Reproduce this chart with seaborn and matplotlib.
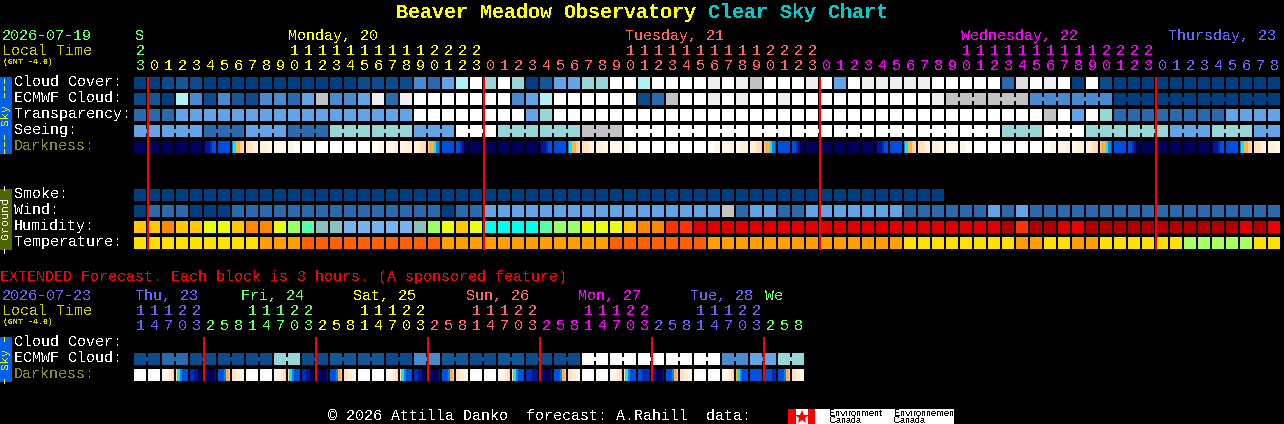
import numpy as np
import pandas as pd
import matplotlib
matplotlib.use("Agg")
import matplotlib.pyplot as plt
from matplotlib.colors import ListedColormap
from matplotlib.patches import Rectangle
import seaborn as sns

W, H = 1284, 424

# block colours, one letter per hour
cloud_codes = "NABCDEFGWXYZ"
cloud_colors = ["#003f7f", "#0d4c8c", "#145797", "#2a6aad", "#4a8bd0", "#62a4e6",
                "#97d6d6", "#b0f2f2", "#ffffff", "#eeeeee", "#dddddd", "#c2c2c2"]

cloud_cover = ("NNABANNNNN" "NNNNNNAAAA" "DCEGWFWFNB" "EEFFWWGWWW" "WXWXZWWWXW"
               "EWXXXXXWWW" "WWCYWXWNWA" "NNNNNNNNNNNN")
ecmwf_cloud = ("ABNGDADBAD" "DCEZDDEXCX" "WWWWWWWDEG" "WWWWWWACZW" "WXWXWWXWWW"
               "WWWWWWWXZZ" "ZZZZDDDDDD" "NNNNNNNNNNNN")
transparency = ("CCCEEEEEEE" "EEEEEEEEEE" "WWWWWWWWEF" "WWWWWWWWWW" "WWWWWWWWWW"
                "WWWWWWWWWW" "WWWWWZWEWF" "CCCCCCCCEEEE")
seeing = ("EE" "EEE" "CCC" "EEE" "CCC" "FFF" "FFF" "EEE" "WWW" "FFF" "FFF" "ZZZ"
          "WWW" "WWW" "WWW" "WWW" "WWW" "WWW" "WWW" "WWW" "WWW"
          "FFF" "WWW" "FFF" "FFF" "EEE" "FFF" "EE")

smoke_hours = 58
wind_codes = "NCEZ"
wind_colors = ["#003f7f", "#2a6aad", "#62a4e6", "#c2c2c2"]
wind = ("NCCCNNNCCC" "CCCCCCCCCC" "CCNCCEEEEE" "EEEEEEEEEE" "EEZCEECCEE"
        "EEEEECCCCC" "CECECCCCCC" "CCCCCCCCCCCC")

humidity_codes = "abcdefghijkl"
humidity_colors = ["#ffc800", "#ff8800", "#e8ff14", "#99ff66", "#55ffaa", "#88c0c0",
                   "#77b4ee", "#00ffee", "#ff3300", "#e00000", "#b00000", "#ee0000"]
humidity = ("aabaaccabb" "cdeffggggg" "fdcachhhhe" "ddcccabbii" "jjjjjjjjjj"
            "jjjjjjjjjj" "jjkikkjlkk" "kkkkkkkkkjkl")

temp_codes = "yopg"
temp_colors = ["#ffe000", "#ffa000", "#ff6000", "#a8ff60"]
temperature = ("yyyyyyyyyo" "oopppppppp" "ppoooooooo" "oooopppppp" "pooooooooo"
               "oooooyyyyy" "yyyooyyooy" "yyyyygggggyy")

# darkness, six samples across each block, 0 = daylight, b = black sky
dark_colors = ["#ffffff", "#fff6ea", "#ffeed8", "#ffe2bc", "#ffd090", "#ffb040",
               "#20e0e0", "#0088ee", "#0050e0", "#0030b0", "#001890", "#00005c"]
darkness = [
    "bbbbbb", "bbbbbb", "bbbbbb", "bbbbbb", "bbbbbb", "baa988", "888888", "765543",
    "333222", "222211", "111111", "111000", "000000", "000000", "000000", "000000", "000000",
    "000111", "111122", "112222", "222334", "455678", "888888", "889abb",
    "bbbbbb", "bbbbbb", "bbbbbb", "bbbbbb", "bbbbbb", "baa988", "888888", "765543",
    "333222", "222211", "111111", "111000", "000000", "000000", "000000", "000000", "000000",
    "000111", "111122", "112222", "222334", "455678", "888888", "889abb",
    "bbbbbb", "bbbbbb", "bbbbbb", "bbbbbb", "bbbbbb", "baa988", "888888", "765543",
    "333222", "222211", "111111", "111000", "000000", "000000", "000000", "000000", "000000",
    "000111", "111122", "112222", "222334", "455678", "888888", "889abb",
    "bbbbbb", "bbbbbb", "bbbbbb", "bbbbbb", "bbbbbb", "baa988", "888888", "765543",
    "333222", "222211",
]

# extended forecast, 3 hours per block
ext_ecmwf = ("AACCAAAAAA" "FFAABBBBAA" "DDBBAABBAA" "AAWWWWWWWW" "WWDDEEFF")
ext_darkness = [
    "000000", "000000", "011234", "367888", "99aabb", "bbbbba", "888754", "332211",
    "000000", "000000", "011234", "367888", "99aabb", "bbbbba", "888754", "332211",
    "000000", "000000", "011234", "367888", "99aabb", "bbbbba", "888754", "332211",
    "000000", "000000", "011234", "367888", "999aaa", "bbbbba", "888754", "332211",
    "000000", "000000", "011234", "367888", "889999", "9abbba", "888754", "332211",
    "000000", "000000", "011234", "567888", "888888", "888899", "888754", "332211",
]

seeing_blocks = [2] + [3] * 26 + [2]
ecmwf_blocks_from_58 = [3] * 8
ext_blocks = [2] * 24

hour_digits = ("3" "012345678901234567890123" "012345678901234567890123"
               "012345678901234567890123" "012345678")
tens_digits = ("2" "          " "1111111111" "2222" "          " "1111111111" "2222"
               "          " "1111111111" "2222" "         ")
day_colors = ["#66ff66", "#ffff00", "#ff6666", "#ff00ff", "#6666ff"]
day_starts = [0, 1, 25, 49, 73]
day_names = ["S", "Monday, 20", "Tuesday, 21", "Wednesday, 22", "Thursday, 23"]
day_name_x = [135, 288, 625, 961, 1168]
midnights = [1, 25, 49, 73]

ext_hours = "14703" "25814703" "25814703" "25814703" "25814703" "25814703" "258"
ext_tens = "11122   11122   11122   11122   11122   11122   "
ext_day_colors = ["#6666ff", "#66ff66", "#ffff00", "#ff6666", "#ff00ff", "#6666ff", "#66ff66"]
ext_day_starts = [0, 5, 13, 21, 29, 37, 45]
ext_day_names = ["Thu, 23", "Fri, 24", "Sat, 25", "Sun, 26", "Mon, 27", "Tue, 28", "We"]
ext_day_x = [135, 241, 353, 466, 578, 690, 765]
ext_midnights = [5, 13, 21, 29, 37, 45]

sns.set_theme(style="dark", rc={"figure.facecolor": "black", "axes.facecolor": "black",
                                "savefig.facecolor": "black", "text.antialiased": False,
                                "text.hinting": "native", "text.hinting_factor": 1})
plt.rcParams["font.family"] = ["Liberation Mono", "DejaVu Sans Mono"]

PX = 72 / 100  # one pixel in points
X0, PITCH = 133, 14
fig = plt.figure(figsize=(W / 100, H / 100), dpi=100)


def grid_axes(top, nrows, ncols):
    return fig.add_axes([X0 / W, 1 - (top + nrows * 16) / H, ncols * PITCH / W, nrows * 16 / H])


def draw_blocks(ax, matrix, colors, samples=1):
    # heatmap for the colours, then black lines cut it into blocks
    sns.heatmap(pd.DataFrame(matrix), ax=ax, cmap=ListedColormap(colors), vmin=-0.5,
                vmax=len(colors) - 0.5, cbar=False, xticklabels=False, yticklabels=False)
    nrows, ncols = np.shape(matrix)
    ax.vlines(np.arange(0, ncols + 1, samples), 0, nrows, color="black", lw=2 * PX)
    ax.hlines(np.arange(nrows + 1), 0, ncols, color="black", lw=4 * PX)
    ax.set_xlabel("")
    ax.set_ylabel("")
    ax.set_facecolor("black")


def add_bridges(ax, row, codes, blocks, start=0):
    # 3 hour data: cells of one block are joined in the middle
    col = start
    for size in blocks:
        for k in range(col + 1, col + size):
            color = cloud_colors[cloud_codes.index(codes[k])]
            ax.add_patch(Rectangle((k - 1.2 / PITCH, row + 0.375), 2.4 / PITCH, 0.25,
                                   facecolor=color, lw=0, antialiased=False, zorder=5))
        col += size


def idx(codes, row):
    return [codes.index(c) for c in row]


def dark_matrix(cells):
    return [[int(c, 16) for c in "".join(cells)]]


ax_sky = grid_axes(75, 4, 82)
draw_blocks(ax_sky, [idx(cloud_codes, r) for r in (cloud_cover, ecmwf_cloud, transparency, seeing)],
            cloud_colors)
add_bridges(ax_sky, 3, seeing, seeing_blocks)
add_bridges(ax_sky, 1, ecmwf_cloud, ecmwf_blocks_from_58, start=58)

ax_dark = grid_axes(139, 1, 82)
draw_blocks(ax_dark, dark_matrix(darkness), dark_colors, samples=6)

# ground rows, each has its own colour scale
ground_colors = wind_colors + humidity_colors + temp_colors
offs_h = len(wind_colors)
offs_t = offs_h + len(humidity_colors)
smoke_row = [0] * smoke_hours + [np.nan] * (82 - smoke_hours)
wind_row = [wind_codes.index(c) for c in wind]
hum_row = [offs_h + humidity_codes.index(c) for c in humidity]
temp_row = [offs_t + temp_codes.index(c) for c in temperature]
ax_ground = grid_axes(187, 4, 82)
draw_blocks(ax_ground, [smoke_row, wind_row, hum_row, temp_row], ground_colors)

ax_ext = grid_axes(335, 2, 48)
ext_rows = [[np.nan] * 48, idx(cloud_codes, ext_ecmwf)]
draw_blocks(ax_ext, ext_rows, cloud_colors)
add_bridges(ax_ext, 1, ext_ecmwf, ext_blocks)

ax_ext_dark = grid_axes(367, 1, 48)
draw_blocks(ax_ext_dark, dark_matrix(ext_darkness), dark_colors, samples=6)

# overlay in pixel coordinates for the texts, side bars and midnight lines
ov = fig.add_axes([0, 0, 1, 1], facecolor="none")
ov.set_xlim(0, W)
ov.set_ylim(H, 0)
ov.axis("off")


def put(x, y, s, color="white", size=15, **kw):
    ov.text(x, y, s, color=color, fontsize=size * PX, va="baseline", **kw)


def cell_x(col):
    return 134 + PITCH * col


put(396, 18, "Beaver Meadow Observatory", "#ffff00", 20, fontweight="bold")
put(708, 18, "Clear Sky Chart", "#00cccc", 20, fontweight="bold")

put(2, 40, "2026-07-19", "#66ff66")
put(2, 55, "Local Time", "#cccc00")
put(3, 64, "(GMT -4.0)", "#cccc00", 8, fontweight="bold")

for name, x, c in zip(day_names, day_name_x, day_colors):
    put(x, 40, name, c)
for col, (h, t) in enumerate(zip(hour_digits, tens_digits)):
    start = [i for i, s in enumerate(day_starts) if s <= col][-1]
    put(cell_x(col) + 2, 70, h, day_colors[start])
    if t != " ":
        put(cell_x(col) + 2, 55, t, day_colors[start])

sky_labels = ["Cloud Cover:", "ECMWF Cloud:", "Transparency:", "Seeing:", "Darkness:"]
for i, lab in enumerate(sky_labels):
    put(14, 86 + 16 * i, lab, "#888833" if lab == "Darkness:" else "white")
for i, lab in enumerate(["Smoke:", "Wind:", "Humidity:", "Temperature:"]):
    put(14, 198 + 16 * i, lab)

put(0, 281, "EXTENDED Forecast. Each block is 3 hours. (A sponsored feature)", "#ff0000")
put(2, 300, "2026-07-23", "#6666ff")
put(2, 315, "Local Time", "#cccc00")
put(3, 324, "(GMT -4.0)", "#cccc00", 8, fontweight="bold")
for name, x, c in zip(ext_day_names, ext_day_x, ext_day_colors):
    put(x, 300, name, c)
for col, (h, t) in enumerate(zip(ext_hours, ext_tens)):
    start = [i for i, s in enumerate(ext_day_starts) if s <= col][-1]
    put(cell_x(col) + 2, 330, h, ext_day_colors[start])
    if t != " ":
        put(cell_x(col) + 2, 315, t, ext_day_colors[start])
for i, lab in enumerate(["Cloud Cover:", "ECMWF Cloud:", "Darkness:"]):
    put(14, 346 + 16 * i, lab, "#888833" if lab == "Darkness:" else "white")

# side bars
for y0, y1, face, txt, tc in [(77, 154, "#0060e6", "\u2013\u2013\u2013 Sky \u2013\u2013\u2013", "#ffff00"),
                              (189, 250, "#4d6600", "\u2013 Ground \u2013", "white"),
                              (337, 382, "#0060e6", "\u2013 Sky \u2013", "#ffff00")]:
    ov.add_patch(Rectangle((0, y0), 12, y1 - y0, facecolor=face, lw=0))
    ov.text(6, (y0 + y1) / 2, txt, color=tc, fontsize=11 * PX, rotation=90,
            ha="center", va="center")

ov.vlines([cell_x(c) for c in midnights], 77, 250, color="#ff0000", lw=2 * PX)
ov.vlines([cell_x(c) for c in ext_midnights], 337, 381, color="#ff0000", lw=2 * PX)

put(328, 420, "\u00a9 2026 Attilla Danko  forecast: A.Rahill  data:")

# Environment Canada logo
ov.add_patch(Rectangle((788, 409), 166, 15, facecolor="white", lw=0))
ov.add_patch(Rectangle((788, 409), 8, 15, facecolor="#ff0000", lw=0))
ov.add_patch(Rectangle((808, 409), 7, 15, facecolor="#ff0000", lw=0))
ov.plot([801.5], [416.5], marker="*", ms=10, color="#ff0000", mew=0)
for x, s in [(829, "Environment"), (894, "Environnement")]:
    ov.text(x, 416, s, color="black", fontsize=8.6 * PX, family="Liberation Sans", va="baseline")
    ov.text(x, 423, "Canada", color="black", fontsize=8.6 * PX, family="Liberation Sans", va="baseline")

fig.savefig("out.png", dpi=100, facecolor="black")
